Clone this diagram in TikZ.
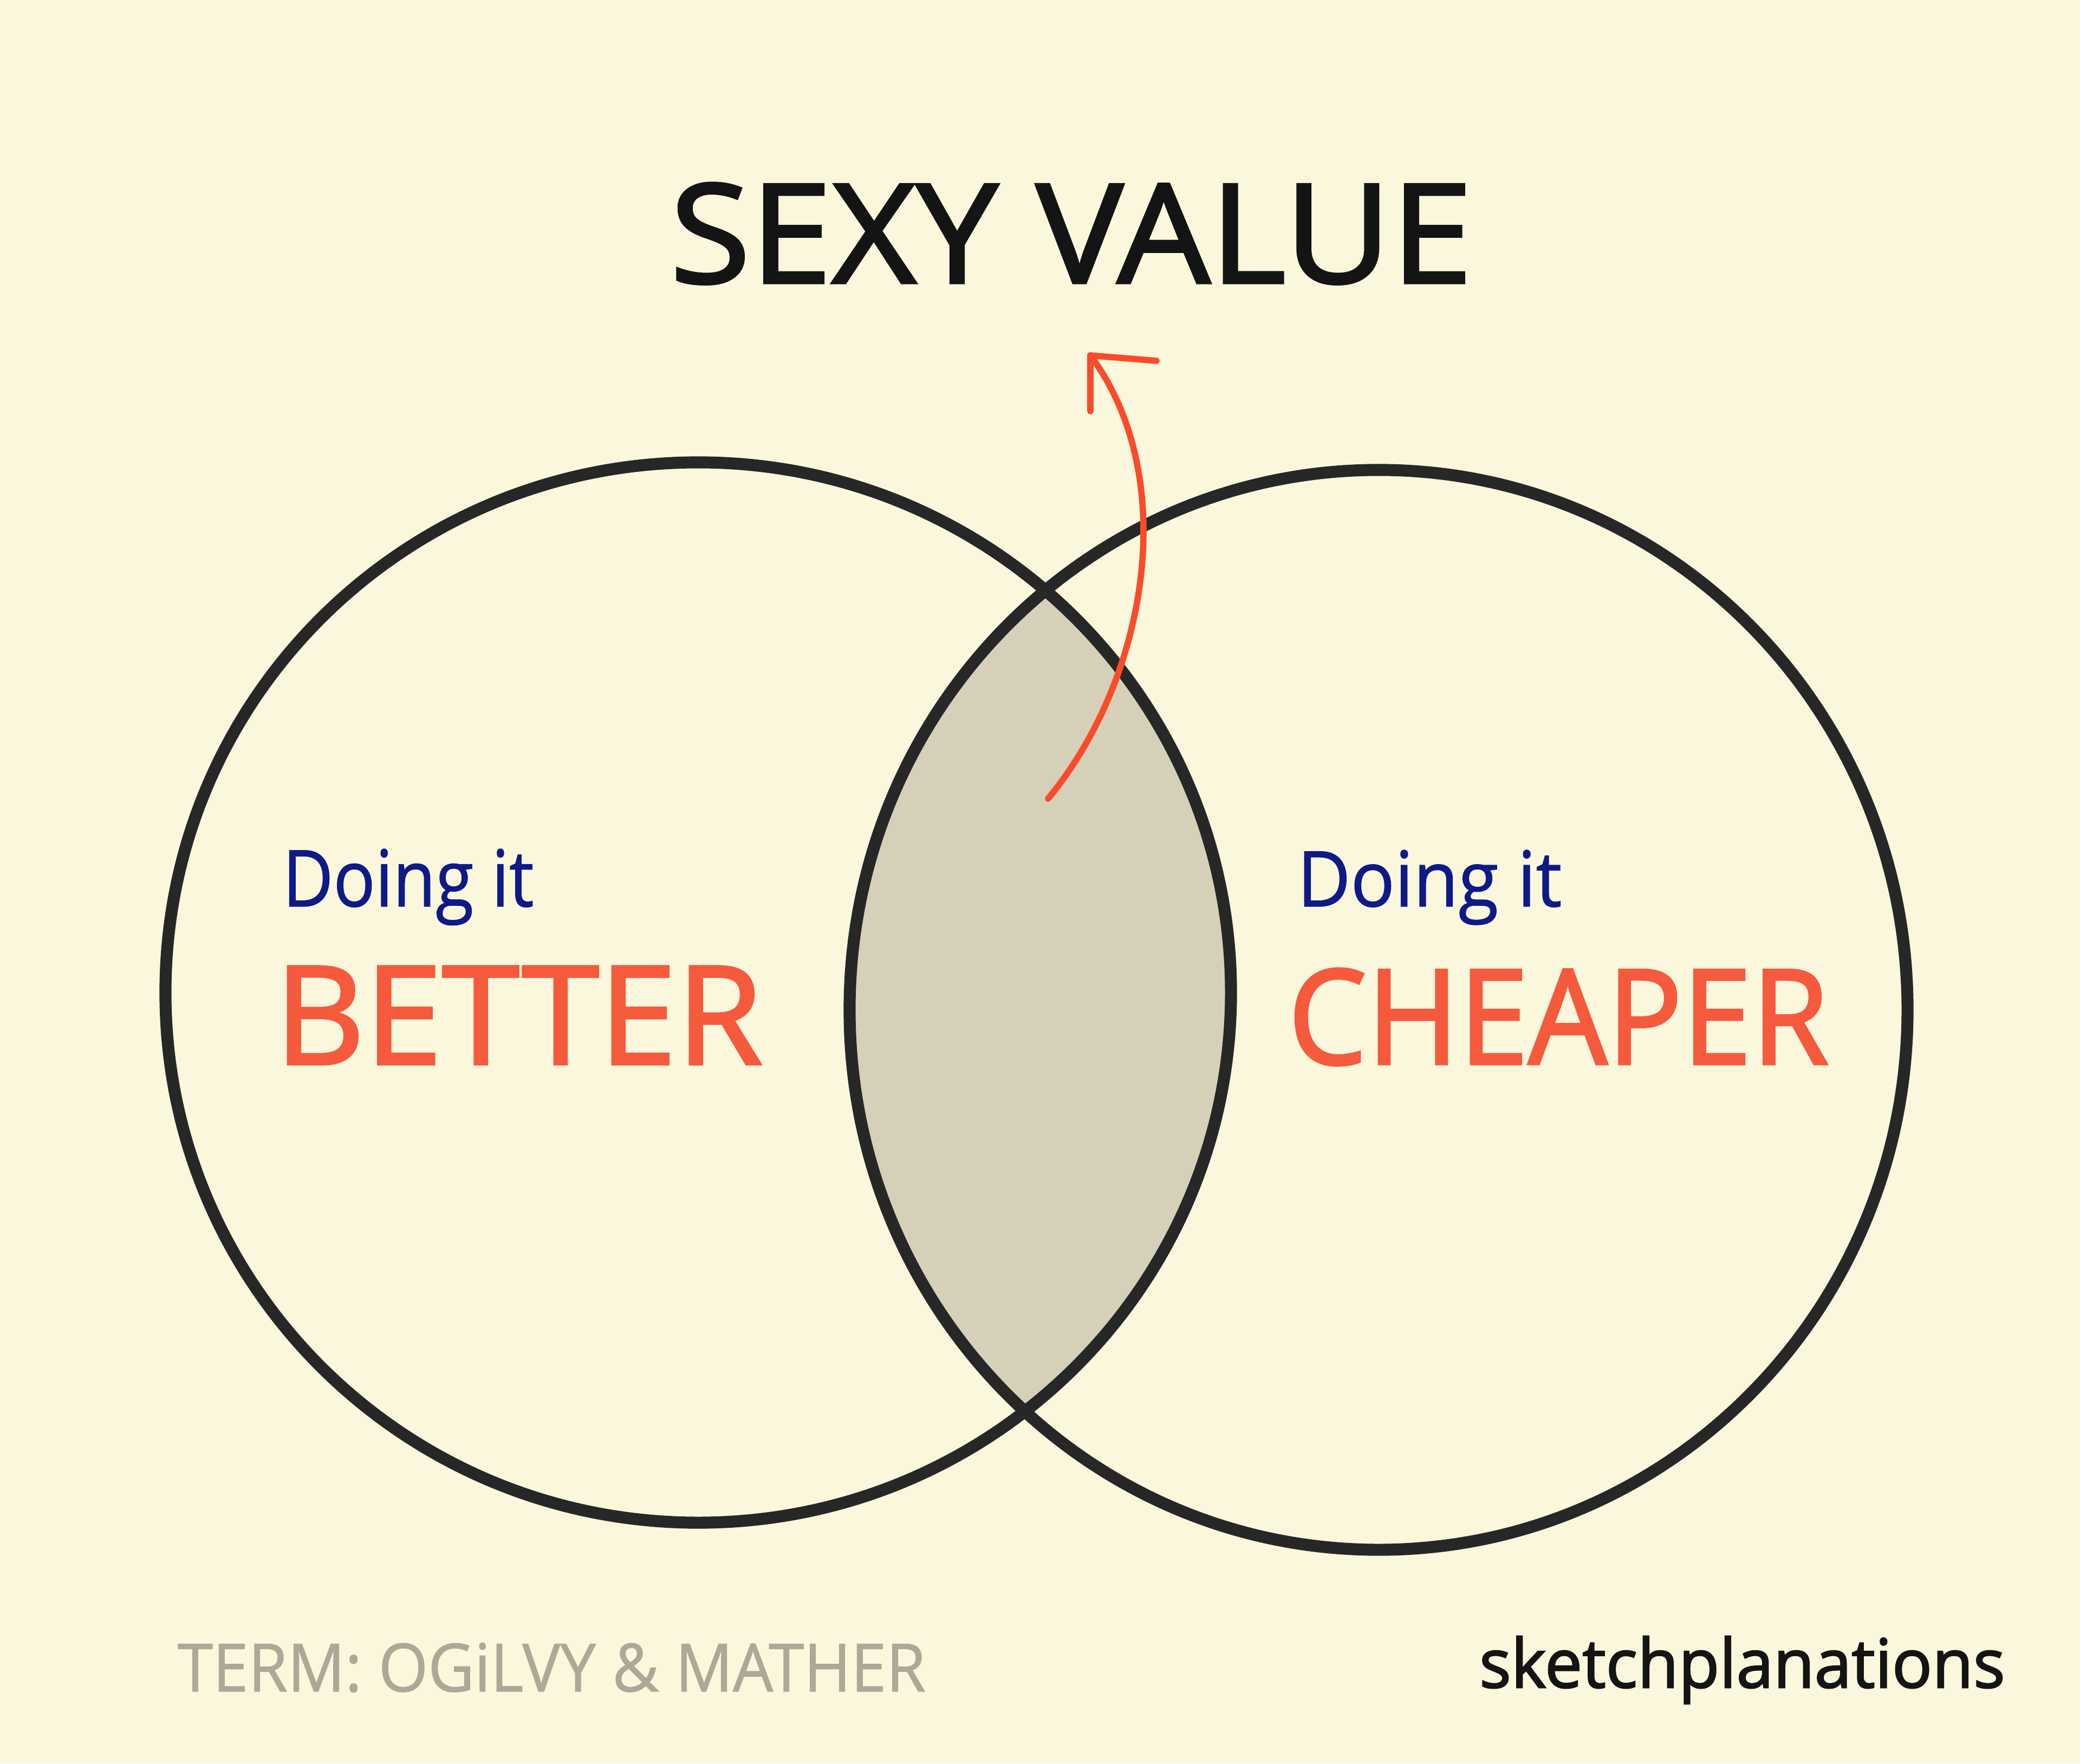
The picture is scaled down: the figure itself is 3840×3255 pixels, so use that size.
\documentclass[tikz,border=0pt]{standalone}
\usepackage{fontspec}
\setmainfont{Open Sans}
\newfontfamily\markerfont[FakeBold=2]{Open Sans}
\newfontfamily\penfont[FakeBold=1]{Open Sans}
\definecolor{paper}{HTML}{FBF7DC}
\definecolor{lensfill}{HTML}{D7D0B9}
\definecolor{ringink}{HTML}{272727}
\definecolor{ink}{HTML}{141414}
\definecolor{navy}{HTML}{0E1A85}
\definecolor{hot}{HTML}{F55A3C}
\definecolor{arrowred}{HTML}{FA4B2B}
\definecolor{faint}{HTML}{AEA898}
\tikzset{
  ring/.style={draw=ringink, line width=6.3pt},
  label/.style={inner sep=0pt, outer sep=0pt, anchor=base west},
  hotline/.style={draw=arrowred, line width=3.3pt, line cap=round, line join=round}
}
\begin{document}
\begin{tikzpicture}[x=0.01cm, y=-0.01cm]
\useasboundingbox (0,0) rectangle (3840,3255);
\fill[paper] (0,0) rectangle (3840,3255);
% lens
\begin{scope}
  \clip (1289,1832) ellipse [x radius=9.83cm, y radius=9.78cm];
  \fill[lensfill] (2545,1864) ellipse [x radius=9.76cm, y radius=9.96cm];
\end{scope}
% circles
\draw[ring] (1289,1832) ellipse [x radius=9.83cm, y radius=9.78cm];
\draw[ring] (2545,1864) ellipse [x radius=9.76cm, y radius=9.96cm];
% title
\node[label, text=ink, font=\markerfont] (title) at (1237,522) {\resizebox{14.8cm}{1.84cm}{SEXY VALUE}};
% left labels
\node[label, text=navy, font=\penfont] (doingL) at (522,1673) {\resizebox{4.63cm}{1.06cm}{Doing it}};
\node[label, text=hot, font=\markerfont] (better) at (507,1964) {\resizebox{9.0cm}{1.8cm}{BETTER}};
% right labels
\node[label, text=navy, font=\penfont] (doingR) at (2395,1673) {\resizebox{4.88cm}{1.04cm}{Doing it}};
\node[label, text=hot, font=\markerfont] (cheaper) at (2378,1964) {\resizebox{9.97cm}{1.76cm}{CHEAPER}};
% footer
\node[label, text=faint, font=\penfont] (term) at (328,3122) {\resizebox{13.8cm}{0.9cm}{TERM: OGiLVY \& MATHER}};
\node[label, text=ink, font=\markerfont] (brand) at (2731,3115) {\resizebox{9.7cm}{0.95cm}{sketchplanations}};
% arrow
\coordinate (arrowstart) at (1935,1474);
\coordinate (arrowtip) at (2013,656);
\coordinate (headR) at (2135,666);
\coordinate (headD) at (2013,759);
\draw[hotline] (arrowstart) .. controls (2120,1250) and (2180,880) .. (arrowtip);
\draw[hotline] (headD) -- (arrowtip) -- (headR);
\end{tikzpicture}
\end{document}
